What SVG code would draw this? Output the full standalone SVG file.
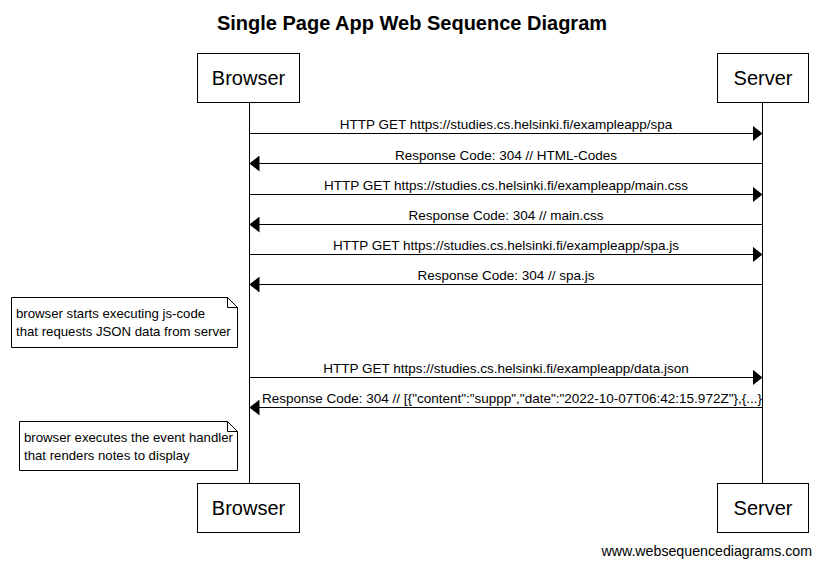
<svg xmlns="http://www.w3.org/2000/svg" width="821" height="566" viewBox="0 0 821 566">
  <style>
    text { font-family: "Liberation Sans", Arial, sans-serif; fill: #000; }
    .title { font-size: 20px; font-weight: bold; text-anchor: middle; }
    .actor rect { fill: #fff; stroke: #000; stroke-width: 1; }
    .actor text { font-size: 20px; text-anchor: middle; }
    .lifeline { stroke: #000; stroke-width: 1; }
    .msg line { stroke: #000; stroke-width: 1; }
    .msg text { font-size: 13.5px; text-anchor: middle; }
    .note path { fill: #fff; stroke: #000; stroke-width: 1; }
    .note text { font-size: 13.2px; }
    .footer { font-size: 14.2px; text-anchor: end; }
  </style>
  <defs>
    <marker id="head" viewBox="0 0 10 16" refX="10" refY="8" markerWidth="10" markerHeight="16" markerUnits="userSpaceOnUse" orient="auto">
      <path d="M0,0 L10,8 L0,16 Z" fill="#000"/>
    </marker>
  </defs>
  <rect width="821" height="566" fill="#fff"/>

  <text class="title" x="412" y="30">Single Page App Web Sequence Diagram</text>

  <!-- lifelines -->
  <g id="lifelines">
    <line class="lifeline" x1="249.5" y1="102" x2="249.5" y2="483"/>
    <line class="lifeline" x1="762.5" y1="102" x2="762.5" y2="483"/>
  </g>

  <!-- participants -->
  <g id="browser-top" class="actor">
    <rect x="197.5" y="53.5" width="102" height="49"/>
    <text x="248.5" y="85">Browser</text>
  </g>
  <g id="server-top" class="actor">
    <rect x="717.5" y="53.5" width="91" height="49"/>
    <text x="763" y="85">Server</text>
  </g>
  <g id="browser-bottom" class="actor">
    <rect x="197.5" y="483.5" width="102" height="49"/>
    <text x="248.5" y="515">Browser</text>
  </g>
  <g id="server-bottom" class="actor">
    <rect x="717.5" y="483.5" width="91" height="49"/>
    <text x="763" y="515">Server</text>
  </g>

  <!-- notes -->
  <g id="note-js" class="note">
    <path d="M11.5,297.5 H227.5 L237.5,307.5 V347.5 H11.5 Z M227.5,297.5 V307.5 H237.5"/>
    <text x="16" y="318">browser starts executing js-code</text>
    <text x="16" y="336">that requests JSON data from server</text>
  </g>
  <g id="note-render" class="note">
    <path d="M19.5,421.5 H227.5 L237.5,431.5 V470.5 H19.5 Z M227.5,421.5 V431.5 H237.5"/>
    <text x="24" y="442">browser executes the event handler</text>
    <text x="24" y="460">that renders notes to display</text>
  </g>

  <!-- messages -->
  <g id="messages" class="msg">
    <line x1="249.5" y1="133.5" x2="762.5" y2="133.5" marker-end="url(#head)"/>
    <text x="506" y="129">HTTP GET https://studies.cs.helsinki.fi/exampleapp/spa</text>

    <line x1="762.5" y1="163.5" x2="249.5" y2="163.5" marker-end="url(#head)"/>
    <text x="506" y="160">Response Code: 304 // HTML-Codes</text>

    <line x1="249.5" y1="194.5" x2="762.5" y2="194.5" marker-end="url(#head)"/>
    <text x="506" y="190">HTTP GET https://studies.cs.helsinki.fi/exampleapp/main.css</text>

    <line x1="762.5" y1="224.5" x2="249.5" y2="224.5" marker-end="url(#head)"/>
    <text x="506" y="220">Response Code: 304 // main.css</text>

    <line x1="249.5" y1="254.5" x2="762.5" y2="254.5" marker-end="url(#head)"/>
    <text x="506" y="250">HTTP GET https://studies.cs.helsinki.fi/exampleapp/spa.js</text>

    <line x1="762.5" y1="284.5" x2="249.5" y2="284.5" marker-end="url(#head)"/>
    <text x="506" y="280">Response Code: 304 // spa.js</text>

    <line x1="249.5" y1="377.5" x2="762.5" y2="377.5" marker-end="url(#head)"/>
    <text x="506" y="373">HTTP GET https://studies.cs.helsinki.fi/exampleapp/data.json</text>

    <line x1="762.5" y1="407.5" x2="249.5" y2="407.5" marker-end="url(#head)"/>
    <text x="512" y="403">Response Code: 304 // [{"content":"suppp","date":"2022-10-07T06:42:15.972Z"},{...}</text>
  </g>

  <text class="footer" x="812" y="556">www.websequencediagrams.com</text>
</svg>
